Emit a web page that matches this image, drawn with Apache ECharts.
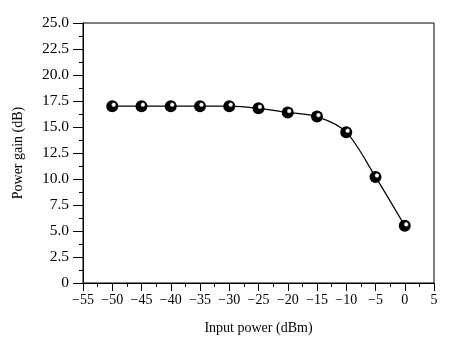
<!DOCTYPE html>
<html>
<head>
<meta charset="utf-8">
<script src="https://cdn.jsdelivr.net/npm/echarts@6/dist/echarts.min.js"></script>
<style>html,body{margin:0;padding:0;background:#fff}#c{width:454px;height:343px}</style>
</head>
<body>
<div id="c"></div>
<script>
var inputPower = [-50, -45, -40, -35, -30, -25, -20, -15, -10, -5, 0];
var powerGain = [17.0, 17.0, 17.0, 17.0, 17.0, 16.8, 16.4, 16.0, 14.5, 10.2, 5.5];
var xTicks = {min: -55, max: 5, step: 5};
var yTicks = {min: 0, max: 25, step: 2.5};

var chart = echarts.init(document.getElementById('c'), null, {renderer: 'canvas'});
var font = '"Liberation Serif", "Times New Roman", serif';
var ball = new echarts.graphic.RadialGradient(0.62, 0.38, 0.7, [
  {offset: 0, color: '#ffffff'},
  {offset: 0.15, color: '#ffffff'},
  {offset: 0.32, color: '#000000'},
  {offset: 1, color: '#000000'}
]);
chart.setOption({
  animation: false,
  backgroundColor: '#fff',
  grid: {left: 83, right: 20, top: 23, bottom: 60, containLabel: false, outerBoundsMode: 'none',
    show: true, borderColor: '#000', borderWidth: 1, backgroundColor: 'transparent'},
  xAxis: {
    type: 'value', min: xTicks.min, max: xTicks.max, interval: xTicks.step,
    name: 'Input power (dBm)', nameLocation: 'middle', nameGap: 38,
    nameTextStyle: {fontFamily: font, fontSize: 14, color: '#000'},
    axisLine: {onZero: false, lineStyle: {color: '#000', width: 1}},
    axisTick: {show: true, inside: false, length: 8, lineStyle: {color: '#000'}},
    minorTick: {show: true, splitNumber: 2, length: 4, lineStyle: {color: '#000'}},
    splitLine: {show: false},
    axisLabel: {fontFamily: font, fontSize: 14, color: '#000', margin: 10,
      formatter: function (v) { return String(v).replace('-', '\u2212'); }}
  },
  yAxis: {
    type: 'value', min: yTicks.min, max: yTicks.max, interval: yTicks.step,
    name: 'Power gain (dB)', nameLocation: 'middle', nameGap: 58,
    nameTextStyle: {fontFamily: font, fontSize: 14, color: '#000'},
    axisLine: {show: true, onZero: false, lineStyle: {color: '#000', width: 1}},
    axisTick: {show: true, inside: false, length: 10, lineStyle: {color: '#000'}},
    minorTick: {show: true, splitNumber: 2, length: 4, lineStyle: {color: '#000'}},
    splitLine: {show: false},
    axisLabel: {fontFamily: font, fontSize: 15.5, color: '#000', margin: 14,
      formatter: function (v) { return v === 0 ? '0' : v.toFixed(1); }}
  },
  series: [{
    type: 'line',
    data: inputPower.map(function (x, i) { return [x, powerGain[i]]; }),
    smooth: 0.3,
    lineStyle: {color: '#000', width: 1.2},
    symbol: 'circle', symbolSize: 12,
    itemStyle: {color: ball, borderWidth: 0}
  }]
});
</script>
</body>
</html>
